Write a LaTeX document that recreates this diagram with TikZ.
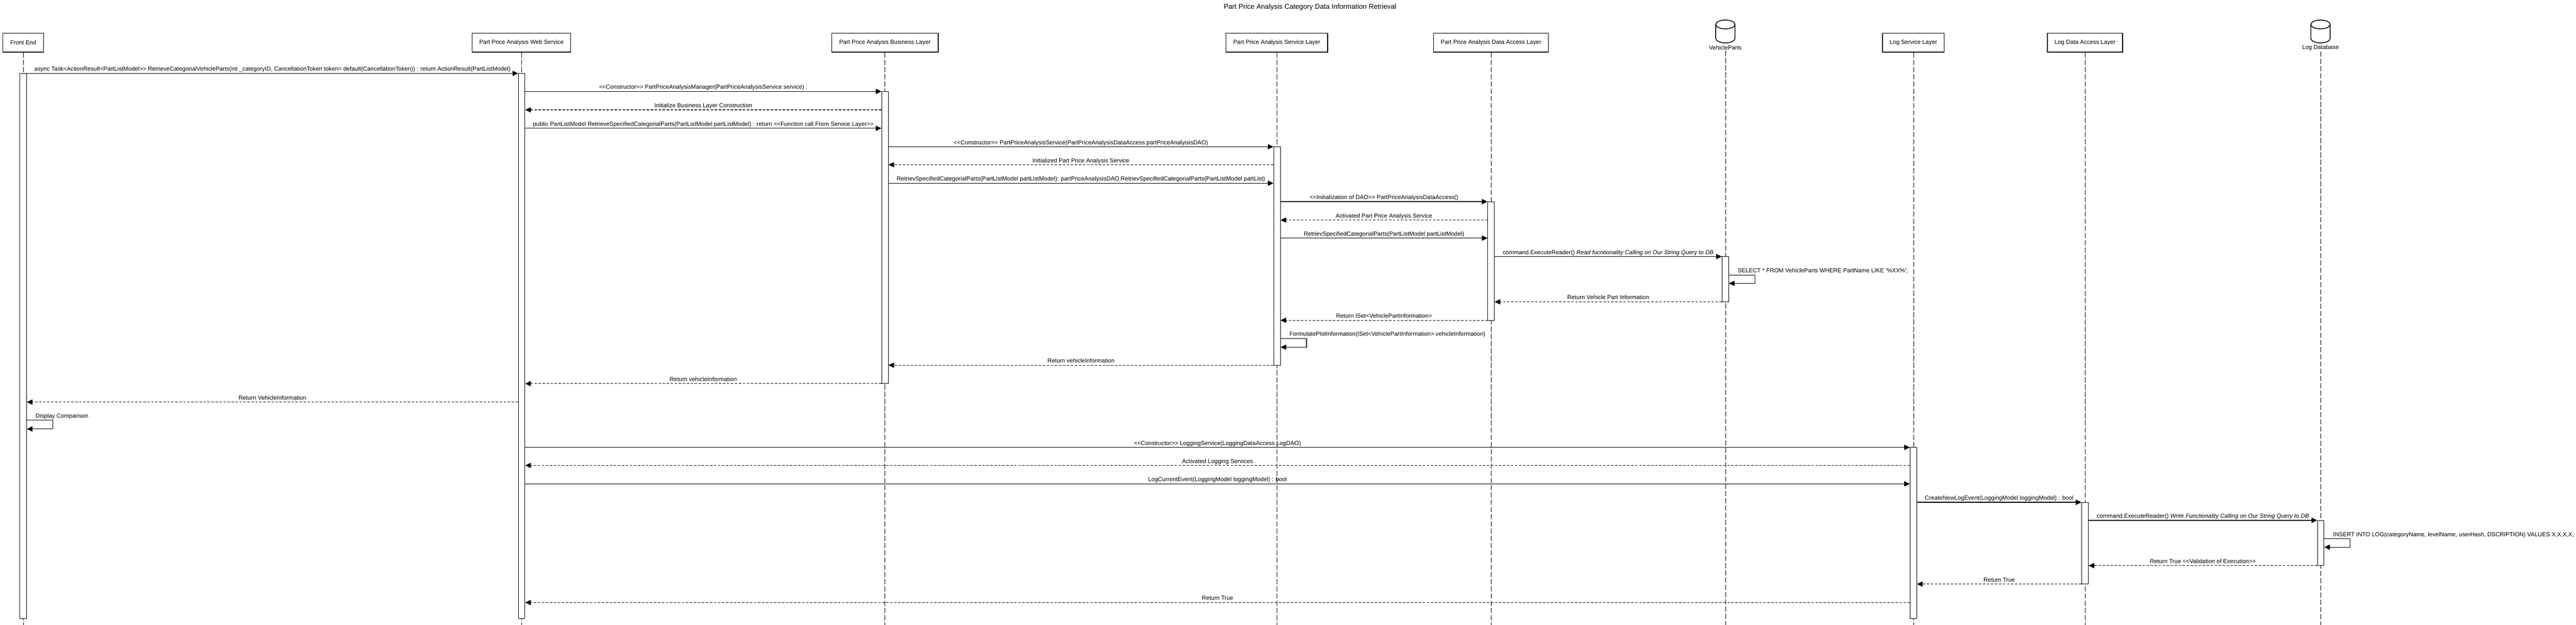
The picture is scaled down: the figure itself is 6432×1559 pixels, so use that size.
\documentclass[tikz,border=0pt]{standalone}
\usepackage{fontspec}
\setmainfont{Liberation Sans}[Ligatures=TeXOff]
\usetikzlibrary{arrows.meta,shapes.geometric}
\tikzset{
    layer/.style={draw,line width=1.8pt,fill=white,minimum height=47pt,inner sep=0pt,font=\fontsize{14.7}{16}\selectfont},
    life/.style={line width=1pt,dash pattern=on 13pt off 5pt},
    bar/.style={draw,line width=1.2pt,fill=white,minimum width=16.5pt,inner sep=0pt},
    call/.style={line width=1.5pt,-{Triangle[length=14pt,width=13pt]}},
    back/.style={line width=1.4pt,dash pattern=on 6pt off 4pt,-{Triangle[length=14pt,width=13pt]}},
    txt/.style={anchor=base,inner sep=0pt,yshift=5.7pt,font=\fontsize{14.7}{16}\selectfont},
    txtself/.style={anchor=base west,inner sep=0pt,yshift=5.7pt,font=\fontsize{14.7}{16}\selectfont},
    dbtxt/.style={inner sep=0pt,font=\fontsize{14.7}{16}\selectfont}
}
% draws a database can with its centre at (#1,-78.5)
\newcommand{\dbcan}[1]{
    \draw[line width=2pt] (#1-24,-61) -- (#1-24,-96) arc[start angle=180,end angle=360,x radius=24,y radius=11] -- (#1+24,-61);
    \draw[line width=2pt] (#1,-61) ellipse[x radius=24,y radius=11];
}
\begin{document}
\begin{tikzpicture}[x=1pt,y=1pt]
    \useasboundingbox (0,0) rectangle (6432,-1559);
    \coordinate (end) at (0,-1559);
    \node[font=\fontsize{17.5}{20}\selectfont,inner sep=0pt] (title) at (3271,-18) {Part Price Analysis Category Data Information Retrieval};
    % layers
    \node[layer,minimum width=102pt] (fe) at (58,-106.5) {Front End};
    \node[layer,minimum width=246pt] (web) at (1302,-106.5) {Part Price Analysis Web Service};
    \node[layer,minimum width=266pt] (bl) at (2209.5,-106.5) {Part Price Analysis Business Layer};
    \node[layer,minimum width=254pt] (sl) at (3188,-106.5) {Part Price Analysis Service Layer};
    \node[layer,minimum width=287pt] (dal) at (3723,-106.5) {Part Price Analysis Data Access Layer};
    \node[layer,minimum width=154pt] (logsl) at (4777.5,-106.5) {Log Service Layer};
    \node[layer,minimum width=188pt] (logdal) at (5206,-106.5) {Log Data Access Layer};
    % databases
    \dbcan{4308}
    \dbcan{5794}
    \node[dbtxt] (vp) at (4308,-119) {VehicleParts};
    \node[dbtxt] (logdb) at (5794,-119) {Log Database};
    % lifelines
    \draw[life] (fe.south) -- (fe.south |- end);
    \draw[life] (web.south) -- (web.south |- end);
    \draw[life] (bl.south) -- (bl.south |- end);
    \draw[life] (sl.south) -- (sl.south |- end);
    \draw[life] (dal.south) -- (dal.south |- end);
    \draw[life] (vp.south) ++(0,-2) -- (vp.south |- end);
    \draw[life] (logsl.south) -- (logsl.south |- end);
    \draw[life] (logdal.south) -- (logdal.south |- end);
    \draw[life] (logdb.south) ++(0,-2) -- (logdb.south |- end);
    % activation bars
    \node[bar,minimum height=1360pt] (febar) at (58,-863) {};
    \node[bar,minimum height=1360pt] (webbar) at (1302.5,-863) {};
    \node[bar,minimum height=729pt] (blbar) at (2209.5,-592.5) {};
    \node[bar,minimum height=545pt] (slbar) at (3188.5,-638.5) {};
    \node[bar,minimum height=296pt] (dalbar) at (3723,-651) {};
    \node[bar,minimum height=113pt] (vpbar) at (4308,-696.5) {};
    \node[bar,minimum height=427pt] (logslbar) at (4777.5,-1329.5) {};
    \node[bar,minimum height=204pt] (logdalbar) at (5206,-1355) {};
    \node[bar,minimum height=113pt] (logdbbar) at (5794.5,-1354.5) {};
    % rows
    \coordinate (r1) at (0,-183);
    \coordinate (r2) at (0,-228);
    \coordinate (r3) at (0,-274);
    \coordinate (r4) at (0,-320);
    \coordinate (r5) at (0,-366);
    \coordinate (r6) at (0,-411);
    \coordinate (r7) at (0,-457);
    \coordinate (r8) at (0,-503);
    \coordinate (r9) at (0,-549);
    \coordinate (r10) at (0,-594);
    \coordinate (r11) at (0,-640);
    \coordinate (r12) at (0,-686);
    \coordinate (r13) at (0,-707);
    \coordinate (r14) at (0,-753);
    \coordinate (r15) at (0,-799);
    \coordinate (r16) at (0,-844);
    \coordinate (r17) at (0,-866);
    \coordinate (r18) at (0,-911);
    \coordinate (r19) at (0,-957);
    \coordinate (r20) at (0,-1003);
    \coordinate (r21) at (0,-1048);
    \coordinate (r22) at (0,-1070);
    \coordinate (r23) at (0,-1116);
    \coordinate (r24) at (0,-1161);
    \coordinate (r25) at (0,-1207);
    \coordinate (r26) at (0,-1253);
    \coordinate (r27) at (0,-1298);
    \coordinate (r28) at (0,-1344);
    \coordinate (r29) at (0,-1365);
    \coordinate (r30) at (0,-1411);
    \coordinate (r31) at (0,-1457);
    \coordinate (r32) at (0,-1503);
    % messages
    \draw[call] (febar.east |- r1) -- node[txt] (m1) {async Task<ActionResult<PartListModel>> RetrieveCategorialVehicleParts(int \_categoryID, CancellationToken token= default(CancellationToken)) : return ActionResult(PartListModel)} (webbar.west |- r1);
    \draw[call] (webbar.east |- r2) -- node[txt] (m2) {<<Constructor>> PartPriceAnalysisManager(PartPriceAnalysisService service) :} (blbar.west |- r2);
    \draw[back] (blbar.west |- r3) -- node[txt] (m3) {Initialize Business Layer Construction} (webbar.east |- r3);
    \draw[call] (webbar.east |- r4) -- node[txt] (m4) {public PartListModel RetrieveSpecifiedCategorialParts(PartListModel partListModel) : return <<Function call From Service Layer>>} (blbar.west |- r4);
    \draw[call] (blbar.east |- r5) -- node[txt] (m5) {<<Constructor>> PartPriceAnalysisService(PartPriceAnalysisDataAccess partPriceAnalyisisDAO)} (slbar.west |- r5);
    \draw[back] (slbar.west |- r6) -- node[txt] (m6) {Initialized Part Price Analysis Service} (blbar.east |- r6);
    \draw[call] (blbar.east |- r7) -- node[txt] (m7) {RetrievSpecifiedCategorialParts(PartListModel partListModel): partPriceAnalysisDAO.RetrievSpecifiedCategorialParts(PartListModel partList)} (slbar.west |- r7);
    \draw[call] (slbar.east |- r8) -- node[txt] (m8) {<<Initialization of DAO>> PartPriceAnalysisDataAccess()} (dalbar.west |- r8);
    \draw[back] (dalbar.west |- r9) -- node[txt] (m9) {Activated Part Price Analysis Service} (slbar.east |- r9);
    \draw[call] (slbar.east |- r10) -- node[txt] (m10) {RetrievSpecifiedCategorialParts(PartListModel partListModel)} (dalbar.west |- r10);
    \draw[call] (dalbar.east |- r11) -- node[txt] (m11) {command.ExecuteReader() \textit{Read fucntionality Calling on Our String Query to DB}} (vpbar.west |- r11);
    \draw[call] (vpbar.east |- r12) -- ++(65,0) |- (vpbar.east |- r13);
    \node[txtself] (m12) at (vpbar.east |- r12) [xshift=22pt] {SELECT * FROM VehicleParts WHERE PartName LIKE '\%XX\%';};
    \draw[back] (vpbar.west |- r14) -- node[txt] (m13) {Return Vehicle Part Information} (dalbar.east |- r14);
    \draw[back] (dalbar.west |- r15) -- node[txt] (m14) {Return ISet<VehiclePartInformation>} (slbar.east |- r15);
    \draw[call] (slbar.east |- r16) -- ++(65,0) |- (slbar.east |- r17);
    \node[txtself] (m15) at (slbar.east |- r16) [xshift=22pt] {FormulatePlotInformation(ISet<VehiclePartInformation> vehicleInformation)};
    \draw[back] (slbar.west |- r18) -- node[txt] (m16) {Return vehicleInformation} (blbar.east |- r18);
    \draw[back] (blbar.west |- r19) -- node[txt] (m17) {Return vehicleInformation} (webbar.east |- r19);
    \draw[back] (webbar.west |- r20) -- node[txt] (m18) {Return VehicleInformation} (febar.east |- r20);
    \draw[call] (febar.east |- r21) -- ++(65,0) |- (febar.east |- r22);
    \node[txtself] (m19) at (febar.east |- r21) [xshift=22pt] {Display Comparison};
    \draw[call] (webbar.east |- r23) -- node[txt] (m20) {<<Constructor>> LoggingService(LoggingDataAccess LogDAO)} (logslbar.west |- r23);
    \draw[back] (logslbar.west |- r24) -- node[txt] (m21) {Activated Logging Services} (webbar.east |- r24);
    \draw[call] (webbar.east |- r25) -- node[txt] (m22) {LogCurrentEvent(LoggingModel loggingModel) : bool} (logslbar.west |- r25);
    \draw[call] (logslbar.east |- r26) -- node[txt] (m23) {CreateNewLogEvent(LoggingModel loggingModel) : bool} (logdalbar.west |- r26);
    \draw[call] (logdalbar.east |- r27) -- node[txt] (m24) {command.ExecuteReader() \textit{Write Functionality Calling on Our String Query to DB}} (logdbbar.west |- r27);
    \draw[call] (logdbbar.east |- r28) -- ++(65,0) |- (logdbbar.east |- r29);
    \node[txtself] (m25) at (logdbbar.east |- r28) [xshift=22pt] {INSERT INTO LOG(categoryName, levelName, userHash, DSCRIPTION) VALUES X,X,X,X;};
    \draw[back] (logdbbar.west |- r30) -- node[txt] (m26) {Return True <<Validation of Execution>>} (logdalbar.east |- r30);
    \draw[back] (logdalbar.west |- r31) -- node[txt] (m27) {Return True} (logslbar.east |- r31);
    \draw[back] (logslbar.west |- r32) -- node[txt] (m28) {Return True} (webbar.east |- r32);
\end{tikzpicture}
\end{document}
